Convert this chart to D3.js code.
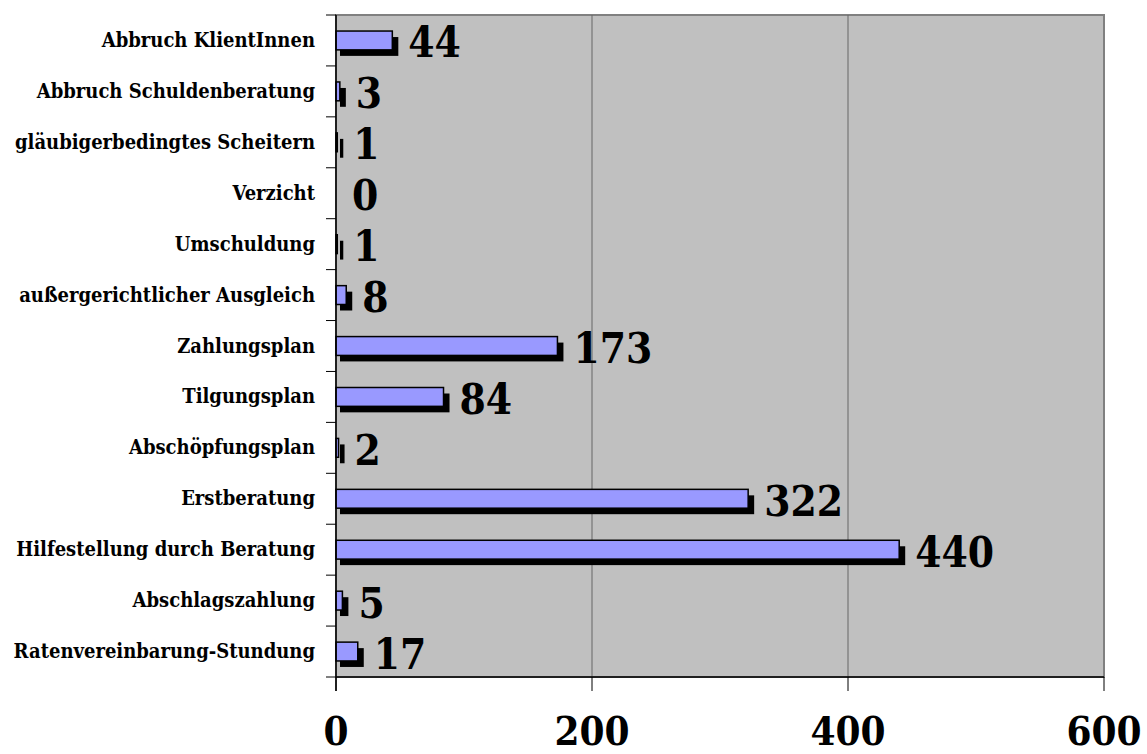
<!DOCTYPE html>
<html>
<head>
<meta charset="utf-8">
<script src="https://cdn.jsdelivr.net/npm/d3@7"></script>
<style>
  body { margin: 0; background: #fff; }
  text { font-family: "DejaVu Serif Condensed", "DejaVu Serif", serif; font-weight: bold; fill: #000; }
</style>
</head>
<body>
<svg id="chart"></svg>
<script>
// categories top to bottom, values as in the chart
const categories = [
  "Abbruch KlientInnen",
  "Abbruch Schuldenberatung",
  "gläubigerbedingtes Scheitern",
  "Verzicht",
  "Umschuldung",
  "außergerichtlicher Ausgleich",
  "Zahlungsplan",
  "Tilgungsplan",
  "Abschöpfungsplan",
  "Erstberatung",
  "Hilfestellung durch Beratung",
  "Abschlagszahlung",
  "Ratenvereinbarung-Stundung"
];
const values = [44, 3, 1, 0, 1, 8, 173, 84, 2, 322, 440, 5, 17];
const xTicks = [0, 200, 400, 600];

const width = 1147, height = 754;
const margin = { top: 15, right: 43, bottom: 77, left: 336 };

const svg = d3.select("#chart")
  .attr("width", width)
  .attr("height", height);

const x = d3.scaleLinear()
  .domain([0, 600])
  .range([margin.left, width - margin.right]);

const y = d3.scaleBand()
  .domain(categories)
  .range([margin.top, height - margin.bottom]);

const barH = y.bandwidth() * 0.37;

// plot background
svg.append("rect")
  .attr("x", x(0))
  .attr("y", margin.top)
  .attr("width", x(600) - x(0))
  .attr("height", height - margin.bottom - margin.top)
  .attr("fill", "#c0c0c0")
  .attr("stroke", "#808080")
  .attr("stroke-width", 2);

// vertical gridlines
svg.selectAll(".grid")
  .data(xTicks.slice(1, -1))
  .enter()
  .append("line")
  .attr("x1", d => x(d)).attr("x2", d => x(d))
  .attr("y1", margin.top).attr("y2", height - margin.bottom)
  .attr("stroke", "#666")
  .attr("stroke-width", 1);

const data = categories.map((c, i) => ({ cat: c, val: values[i] }));

const rows = svg.selectAll(".row")
  .data(data)
  .enter()
  .append("g")
  .attr("class", "row");

// shadow
rows.filter(d => d.val > 0)
  .append("rect")
  .attr("x", d => x(0) + 4)
  .attr("y", d => y(d.cat) + y.bandwidth() / 2 - barH / 2 + 6)
  .attr("width", d => x(d.val) - x(0) + 2)
  .attr("height", barH)
  .attr("fill", "#000");

// bars
rows.filter(d => d.val > 0)
  .append("rect")
  .attr("x", x(0))
  .attr("y", d => y(d.cat) + y.bandwidth() / 2 - barH / 2)
  .attr("width", d => x(d.val) - x(0))
  .attr("height", barH)
  .attr("fill", "#9999ff")
  .attr("stroke", "#000")
  .attr("stroke-width", 1.5);

// value labels
rows.append("text")
  .attr("x", d => x(d.val) + 16)
  .attr("y", d => y(d.cat) + y.bandwidth() / 2 + 17)
  .style("font-size", "42px")
  .text(d => d.val);

// left axis
const yAxis = svg.append("g")
  .attr("transform", `translate(${x(0)},0)`);
yAxis.append("line")
  .attr("x1", 0).attr("x2", 0)
  .attr("y1", margin.top).attr("y2", height - margin.bottom + 14)
  .attr("stroke", "#000").attr("stroke-width", 1.5);
yAxis.selectAll(".tick")
  .data(categories.concat([null]))
  .enter()
  .append("line")
  .attr("x1", -10).attr("x2", 0)
  .attr("y1", (d, i) => margin.top + i * y.step())
  .attr("y2", (d, i) => margin.top + i * y.step())
  .attr("stroke", "#000").attr("stroke-width", 1);
yAxis.selectAll(".lab")
  .data(categories)
  .enter()
  .append("text")
  .attr("x", -21)
  .attr("y", d => y(d) + y.bandwidth() / 2 + 6.5)
  .attr("text-anchor", "end")
  .style("font-size", "20px")
  .text(d => d);

// bottom axis
const xAxis = svg.append("g")
  .attr("transform", `translate(0,${height - margin.bottom})`);
xAxis.append("line")
  .attr("x1", x(0)).attr("x2", x(600))
  .attr("y1", 0).attr("y2", 0)
  .attr("stroke", "#000").attr("stroke-width", 1.5);
xAxis.selectAll(".tick")
  .data(xTicks)
  .enter()
  .append("line")
  .attr("x1", d => x(d)).attr("x2", d => x(d))
  .attr("y1", 0).attr("y2", 14)
  .attr("stroke", "#000").attr("stroke-width", 1);
xAxis.selectAll(".lab")
  .data(xTicks)
  .enter()
  .append("text")
  .attr("x", d => x(d))
  .attr("y", 68)
  .attr("text-anchor", "middle")
  .style("font-size", "40px")
  .text(d => d);
</script>
</body>
</html>
